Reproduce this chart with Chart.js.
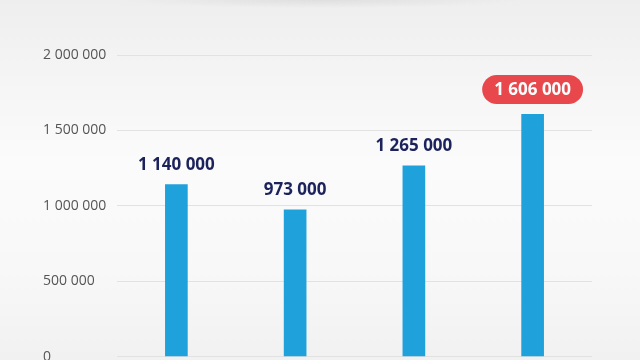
<!DOCTYPE html>
<html>
<head>
<meta charset="utf-8">
<script src="https://cdn.jsdelivr.net/npm/chart.js@4/dist/chart.umd.min.js"></script>
<style>
html,body{margin:0;padding:0;width:640px;height:360px;overflow:hidden;}
body{
  background:
    radial-gradient(ellipse 200px 8px at 320px 0px, rgba(205,205,205,0.45), rgba(205,205,205,0) 100%),
    linear-gradient(to bottom,#eeeeee 0%,#f3f3f3 15%,#fbfbfb 45%,#f8f8f8 75%,#f1f1f1 100%);
}
#wrap{position:absolute;left:0;top:0;width:640px;height:373px;}
</style>
</head>
<body>
<div id="wrap"><canvas id="c" width="640" height="373"></canvas></div>
<script>
const categories = ["1", "2", "3", "4"];
const values = [1140000, 973000, 1265000, 1606000];
const yTicks = [0, 500000, 1000000, 1500000, 2000000];
const highlightIndex = 3;

function fmt(n){ return String(n).replace(/\B(?=(\d{3})+(?!\d))/g, " "); }

const labelPlugin = {
  id: 'valueLabels',
  afterDatasetsDraw(chart){
    const ctx = chart.ctx;
    const meta = chart.getDatasetMeta(0);
    ctx.save();
    ctx.font = "bold 17px 'Open Sans'";
    ctx.textAlign = 'center';
    ctx.textBaseline = 'middle';
    meta.data.forEach((bar, i) => {
      const txt = fmt(values[i]);
      if (i === highlightIndex) {
        const cy = bar.y - 25;
        const w = ctx.measureText(txt).width + 24;
        const h = 29;
        ctx.fillStyle = '#e8474c';
        ctx.beginPath();
        ctx.roundRect(bar.x - w/2, cy - h/2, w, h, h/2);
        ctx.fill();
        ctx.fillStyle = '#ffffff';
        ctx.fillText(txt, bar.x, cy + 1);
      } else {
        ctx.fillStyle = '#1c225c';
        ctx.fillText(txt, bar.x, bar.y - 20);
      }
    });
    ctx.restore();
  }
};

new Chart(document.getElementById('c'), {
  type: 'bar',
  data: {
    labels: categories,
    datasets: [{
      data: values,
      backgroundColor: '#1fa1dc',
      borderWidth: 0,
      barThickness: 22
    }]
  },
  options: {
    responsive: false,
    animation: false,
    devicePixelRatio: 1,
    layout: { padding: { left: 43, right: 48, top: 55, bottom: 4 } },
    plugins: { legend: { display: false }, tooltip: { enabled: false } },
    scales: {
      x: {
        display: false,
        grid: { display: false }
      },
      y: {
        min: 0,
        max: 2000000,
        afterBuildTicks(scale){ scale.ticks = yTicks.map(v => ({ value: v })); },
        afterFit(scale){ scale.width = 74; },
        border: { display: false },
        grid: { color: '#e2e2e2', lineWidth: 1, drawTicks: false },
        ticks: {
          crossAlign: 'far',
          padding: 8,
          color: '#555555',
          font: { family: "'Open Sans'", size: 14 },
          callback: (v) => fmt(v)
        }
      }
    }
  },
  plugins: [labelPlugin]
});
</script>
</body>
</html>
